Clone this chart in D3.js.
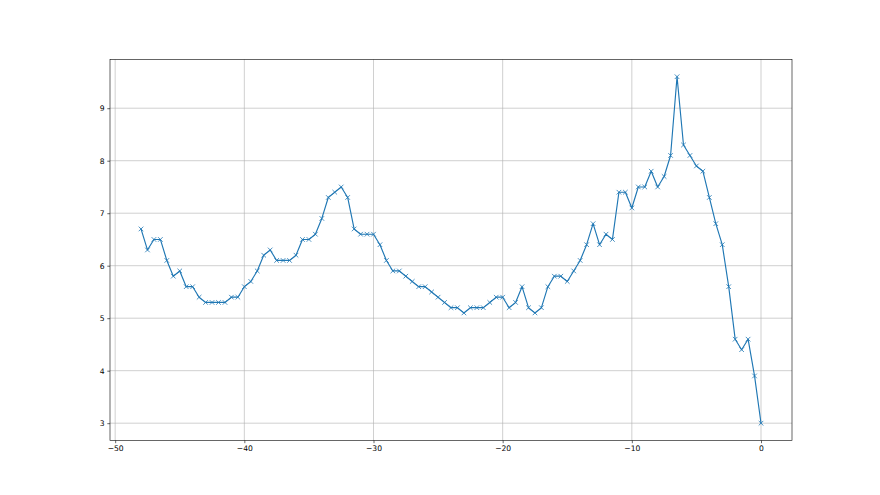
<!DOCTYPE html>
<html>
<head>
<meta charset="utf-8">
<script src="https://d3js.org/d3.v7.min.js"></script>
<style>
  body { margin: 0; background: #fff; }
  text { font-family: "DejaVu Sans", sans-serif; }
</style>
</head>
<body>
<script>
// data, x from -48 to 0 in steps of 0.5
var xStart = -48, xStep = 0.5;
var values = [6.7, 6.3, 6.5, 6.5, 6.1, 5.8, 5.9, 5.6, 5.6, 5.4,
              5.3, 5.3, 5.3, 5.3, 5.4, 5.4, 5.6, 5.7, 5.9, 6.2,
              6.3, 6.1, 6.1, 6.1, 6.2, 6.5, 6.5, 6.6, 6.9, 7.3,
              7.4, 7.5, 7.3, 6.7, 6.6, 6.6, 6.6, 6.4, 6.1, 5.9,
              5.9, 5.8, 5.7, 5.6, 5.6, 5.5, 5.4, 5.3, 5.2, 5.2,
              5.1, 5.2, 5.2, 5.2, 5.3, 5.4, 5.4, 5.2, 5.3, 5.6,
              5.2, 5.1, 5.2, 5.6, 5.8, 5.8, 5.7, 5.9, 6.1, 6.4,
              6.8, 6.4, 6.6, 6.5, 7.4, 7.4, 7.1, 7.5, 7.5, 7.8,
              7.5, 7.7, 8.1, 9.6, 8.3, 8.1, 7.9, 7.8, 7.3, 6.8,
              6.4, 5.6, 4.6, 4.4, 4.6, 3.9, 3.0];
var xTicks = [-50, -40, -30, -20, -10, 0];
var yTicks = [3, 4, 5, 6, 7, 8, 9];

var points = values.map(function(v, i) { return {x: xStart + i * xStep, y: v}; });

var w = 880, h = 495;
var mLeft = 110, mRight = 792, mTop = 59.4, mBottom = 440.5;

var svg = d3.select("body").append("svg")
            .attr("width", w)
            .attr("height", h);

var xMin = d3.min(points, function(d) { return d.x; }),
    xMax = d3.max(points, function(d) { return d.x; }),
    yMin = d3.min(values), yMax = d3.max(values);
var xPad = (xMax - xMin) * 0.05, yPad = (yMax - yMin) * 0.05;

var x = d3.scaleLinear().domain([xMin - xPad, xMax + xPad]).range([mLeft, mRight]);
var y = d3.scaleLinear().domain([yMin - yPad, yMax + yPad]).range([mBottom, mTop]);

// grid
svg.append("g").selectAll("line").data(xTicks).enter().append("line")
   .attr("x1", function(d) { return x(d); }).attr("x2", function(d) { return x(d); })
   .attr("y1", mTop).attr("y2", mBottom)
   .attr("stroke", "#b0b0b0").attr("stroke-width", 0.6);
svg.append("g").selectAll("line").data(yTicks).enter().append("line")
   .attr("y1", function(d) { return y(d); }).attr("y2", function(d) { return y(d); })
   .attr("x1", mLeft).attr("x2", mRight)
   .attr("stroke", "#b0b0b0").attr("stroke-width", 0.6);

// axes
var xAxis = svg.append("g")
   .attr("transform", "translate(0," + mBottom + ")")
   .call(d3.axisBottom(x).tickValues(xTicks).tickSize(2.7).tickPadding(2.7)
         .tickFormat(function(d) { return d < 0 ? "\u2212" + Math.abs(d) : d; }));
var yAxis = svg.append("g")
   .attr("transform", "translate(" + mLeft + ",0)")
   .call(d3.axisLeft(y).tickValues(yTicks).tickSize(2.7).tickPadding(2.7));
[xAxis, yAxis].forEach(function(a) {
  a.select(".domain").remove();
  a.selectAll("text").attr("font-size", "7.6px").attr("fill", "#000")
   .style("font-family", "'DejaVu Sans', sans-serif");
  a.selectAll("line").attr("stroke", "#000").attr("stroke-width", 0.6);
});

// line
var line = d3.line().x(function(d) { return x(d.x); }).y(function(d) { return y(d.y); });
svg.append("path").datum(points)
   .attr("d", line)
   .attr("fill", "none")
   .attr("stroke", "#1f77b4")
   .attr("stroke-width", 1.15)
   .attr("stroke-linejoin", "round")
   .attr("stroke-linecap", "square");

// x markers
var m = 2.3;
svg.append("g").selectAll("path").data(points).enter().append("path")
   .attr("d", function(d) {
     var cx = x(d.x), cy = y(d.y);
     return "M" + (cx - m) + "," + (cy - m) + "L" + (cx + m) + "," + (cy + m) +
            "M" + (cx - m) + "," + (cy + m) + "L" + (cx + m) + "," + (cy - m);
   })
   .attr("stroke", "#1f77b4")
   .attr("stroke-width", 0.8)
   .attr("fill", "none");

// frame
svg.append("rect")
   .attr("x", mLeft).attr("y", mTop)
   .attr("width", mRight - mLeft).attr("height", mBottom - mTop)
   .attr("fill", "none").attr("stroke", "#000").attr("stroke-width", 0.6);
</script>
</body>
</html>
